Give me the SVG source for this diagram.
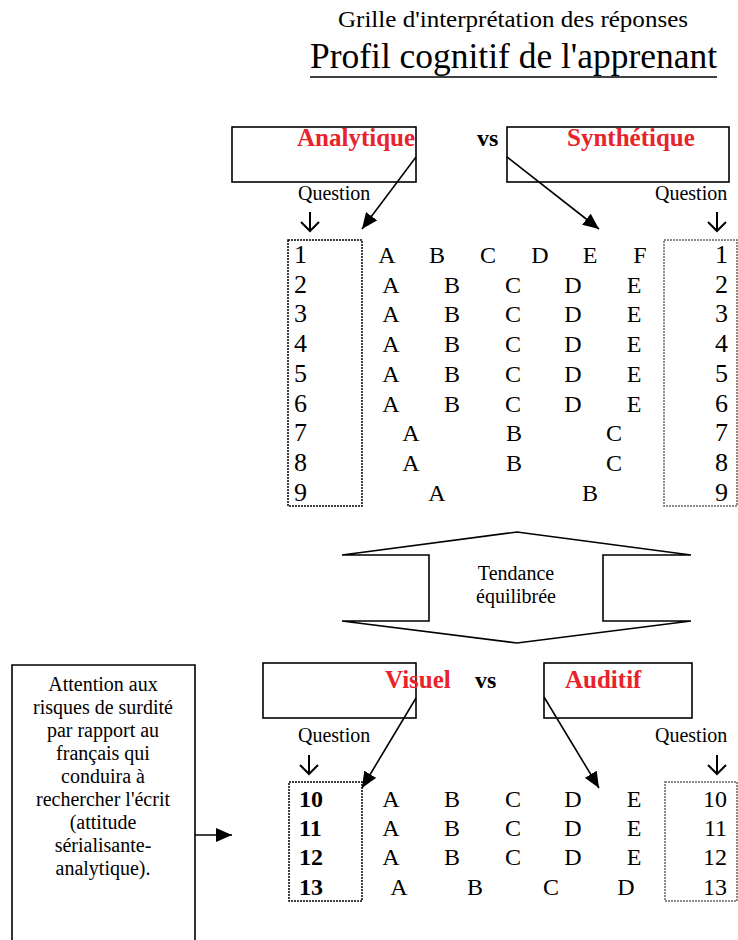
<svg xmlns="http://www.w3.org/2000/svg" width="738" height="940" viewBox="0 0 738 940">
<style>
text{font-family:"Liberation Serif","Times New Roman",serif;fill:#000}
.t{font-size:24px}
.n{font-size:26px}
.q{font-size:20px}
.lbl{font-size:25px;font-weight:bold;fill:#e8232a}
.vs{font-size:24px;font-weight:bold}
.b{font-size:24px;font-weight:bold}
.m{text-anchor:middle}
.e{text-anchor:end}
.box{fill:none;stroke:#000;stroke-width:1.6}
.dot{fill:none;stroke:#000;stroke-width:1.5;stroke-dasharray:2 1}
.dot2{fill:none;stroke:#666;stroke-width:1.5;stroke-dasharray:2 1}
.con{fill:none;stroke:#000;stroke-width:1.6}
.down{fill:none;stroke:#000;stroke-width:2}
</style>
<defs>
<marker id="ah2" viewBox="0 0 10 10" refX="10" refY="5" markerWidth="16" markerHeight="14" markerUnits="userSpaceOnUse" orient="auto" preserveAspectRatio="none">
<path d="M0,0 L10,5 L0,10 z" fill="#000"/>
</marker>
</defs>

<g id="title">
<text x="513" y="27" class="m" style="font-size:24px" textLength="350" lengthAdjust="spacingAndGlyphs">Grille d'interprétation des réponses</text>
<text x="310" y="68" style="font-size:35px" textLength="407" lengthAdjust="spacingAndGlyphs">Profil cognitif de l'apprenant</text>
<line x1="310" y1="77" x2="717" y2="77" stroke="#000" stroke-width="1.6"/>
</g>

<g id="analytique">
<rect class="box" x="232" y="127" width="184" height="55"/>
<text class="lbl" x="297" y="146">Analytique</text>
</g>
<g id="vs1"><text class="vs" x="477" y="146">vs</text></g>
<g id="synthetique">
<rect class="box" x="507" y="127" width="222" height="55"/>
<text class="lbl" x="567" y="146">Synthétique</text>
</g>

<g id="questions-top">
<text class="q" x="298" y="200">Question</text>
<text class="q" x="655" y="200">Question</text>
<path class="down" d="M310,212 V231 M301,222 L310,231 L319,222"/>
<path class="down" d="M717,212 V231 M708,222 L717,231 L726,222"/>
</g>

<g id="left-col-top">
<rect class="dot" x="288" y="240" width="74" height="266"/>
<text class="n" x="294" y="263">1</text>
<text class="n" x="294" y="293">2</text>
<text class="n" x="294" y="322">3</text>
<text class="n" x="294" y="352">4</text>
<text class="n" x="294" y="382">5</text>
<text class="n" x="294" y="412">6</text>
<text class="n" x="294" y="441">7</text>
<text class="n" x="294" y="471">8</text>
<text class="n" x="294" y="501">9</text>
</g>

<g id="right-col-top">
<rect class="dot2" x="664" y="240" width="73" height="266"/>
<text class="n e" x="728" y="263">1</text>
<text class="n e" x="728" y="293">2</text>
<text class="n e" x="728" y="322">3</text>
<text class="n e" x="728" y="352">4</text>
<text class="n e" x="728" y="382">5</text>
<text class="n e" x="728" y="412">6</text>
<text class="n e" x="728" y="441">7</text>
<text class="n e" x="728" y="471">8</text>
<text class="n e" x="728" y="501">9</text>
</g>

<g id="answers-top">
<text class="t m" x="387" y="263">A</text><text class="t m" x="437" y="263">B</text><text class="t m" x="488" y="263">C</text><text class="t m" x="540" y="263">D</text><text class="t m" x="590" y="263">E</text><text class="t m" x="640" y="263">F</text>
<text class="t m" x="391" y="293">A</text><text class="t m" x="452" y="293">B</text><text class="t m" x="513" y="293">C</text><text class="t m" x="573" y="293">D</text><text class="t m" x="634" y="293">E</text>
<text class="t m" x="391" y="322">A</text><text class="t m" x="452" y="322">B</text><text class="t m" x="513" y="322">C</text><text class="t m" x="573" y="322">D</text><text class="t m" x="634" y="322">E</text>
<text class="t m" x="391" y="352">A</text><text class="t m" x="452" y="352">B</text><text class="t m" x="513" y="352">C</text><text class="t m" x="573" y="352">D</text><text class="t m" x="634" y="352">E</text>
<text class="t m" x="391" y="382">A</text><text class="t m" x="452" y="382">B</text><text class="t m" x="513" y="382">C</text><text class="t m" x="573" y="382">D</text><text class="t m" x="634" y="382">E</text>
<text class="t m" x="391" y="412">A</text><text class="t m" x="452" y="412">B</text><text class="t m" x="513" y="412">C</text><text class="t m" x="573" y="412">D</text><text class="t m" x="634" y="412">E</text>
<text class="t m" x="411" y="441">A</text><text class="t m" x="514" y="441">B</text><text class="t m" x="614" y="441">C</text>
<text class="t m" x="411" y="471">A</text><text class="t m" x="514" y="471">B</text><text class="t m" x="614" y="471">C</text>
<text class="t m" x="437" y="501">A</text><text class="t m" x="590" y="501">B</text>
</g>

<g id="tendance">
<path class="box" d="M342,555 L517,532 L691,555 L603,555 L603,621 L691,621 L517,643 L342,621 L429,621 L429,555 Z"/>
<text class="q m" x="516" y="580">Tendance</text>
<text class="q m" x="516" y="603">équilibrée</text>
</g>

<g id="note">
<path class="box" d="M12,940 V665 H195 V940"/>
<text class="q m" x="103" y="691">Attention aux</text>
<text class="q m" x="103" y="714">risques de surdité</text>
<text class="q m" x="103" y="737">par rapport au</text>
<text class="q m" x="103" y="760">français qui</text>
<text class="q m" x="103" y="783">conduira à</text>
<text class="q m" x="103" y="806">rechercher l'écrit</text>
<text class="q m" x="103" y="829">(attitude</text>
<text class="q m" x="103" y="852">sérialisante-</text>
<text class="q m" x="103" y="875">analytique).</text>
</g>

<g id="visuel">
<rect class="box" x="263" y="663" width="153" height="55"/>
<text class="lbl" x="385" y="688">Visuel</text>
</g>
<g id="vs2"><text class="vs" x="475" y="688">vs</text></g>
<g id="auditif">
<rect class="box" x="544" y="663" width="148" height="55"/>
<text class="lbl" x="565" y="688">Auditif</text>
</g>

<g id="questions-bottom">
<text class="q" x="298" y="742">Question</text>
<text class="q" x="655" y="742">Question</text>
<path class="down" d="M309,755 V774 M300,765 L309,774 L318,765"/>
<path class="down" d="M717,755 V774 M708,765 L717,774 L726,765"/>
</g>

<g id="left-col-bottom">
<rect class="dot" x="289" y="782" width="73" height="119"/>
<text class="b" x="299" y="807">10</text>
<text class="b" x="299" y="836">11</text>
<text class="b" x="299" y="865">12</text>
<text class="b" x="299" y="895">13</text>
</g>
<g id="right-col-bottom">
<rect class="dot2" x="665" y="782" width="72" height="119"/>
<text class="t e" x="727" y="807">10</text>
<text class="t e" x="727" y="836">11</text>
<text class="t e" x="727" y="865">12</text>
<text class="t e" x="727" y="895">13</text>
</g>

<g id="answers-bottom">
<text class="t m" x="391" y="807">A</text><text class="t m" x="452" y="807">B</text><text class="t m" x="513" y="807">C</text><text class="t m" x="573" y="807">D</text><text class="t m" x="634" y="807">E</text>
<text class="t m" x="391" y="836">A</text><text class="t m" x="452" y="836">B</text><text class="t m" x="513" y="836">C</text><text class="t m" x="573" y="836">D</text><text class="t m" x="634" y="836">E</text>
<text class="t m" x="391" y="865">A</text><text class="t m" x="452" y="865">B</text><text class="t m" x="513" y="865">C</text><text class="t m" x="573" y="865">D</text><text class="t m" x="634" y="865">E</text>
<text class="t m" x="399" y="895">A</text><text class="t m" x="475" y="895">B</text><text class="t m" x="551" y="895">C</text><text class="t m" x="626" y="895">D</text>
</g>

<g id="connectors">
<line class="con" x1="416" y1="157" x2="362" y2="229" marker-end="url(#ah2)"/>
<line class="con" x1="507" y1="157" x2="599" y2="229" marker-end="url(#ah2)"/>
<line class="con" x1="416" y1="698" x2="362" y2="788" marker-end="url(#ah2)"/>
<line class="con" x1="544" y1="697" x2="599" y2="788" marker-end="url(#ah2)"/>
<line class="con" x1="195" y1="835" x2="232" y2="835" marker-end="url(#ah2)"/>
</g>
</svg>
